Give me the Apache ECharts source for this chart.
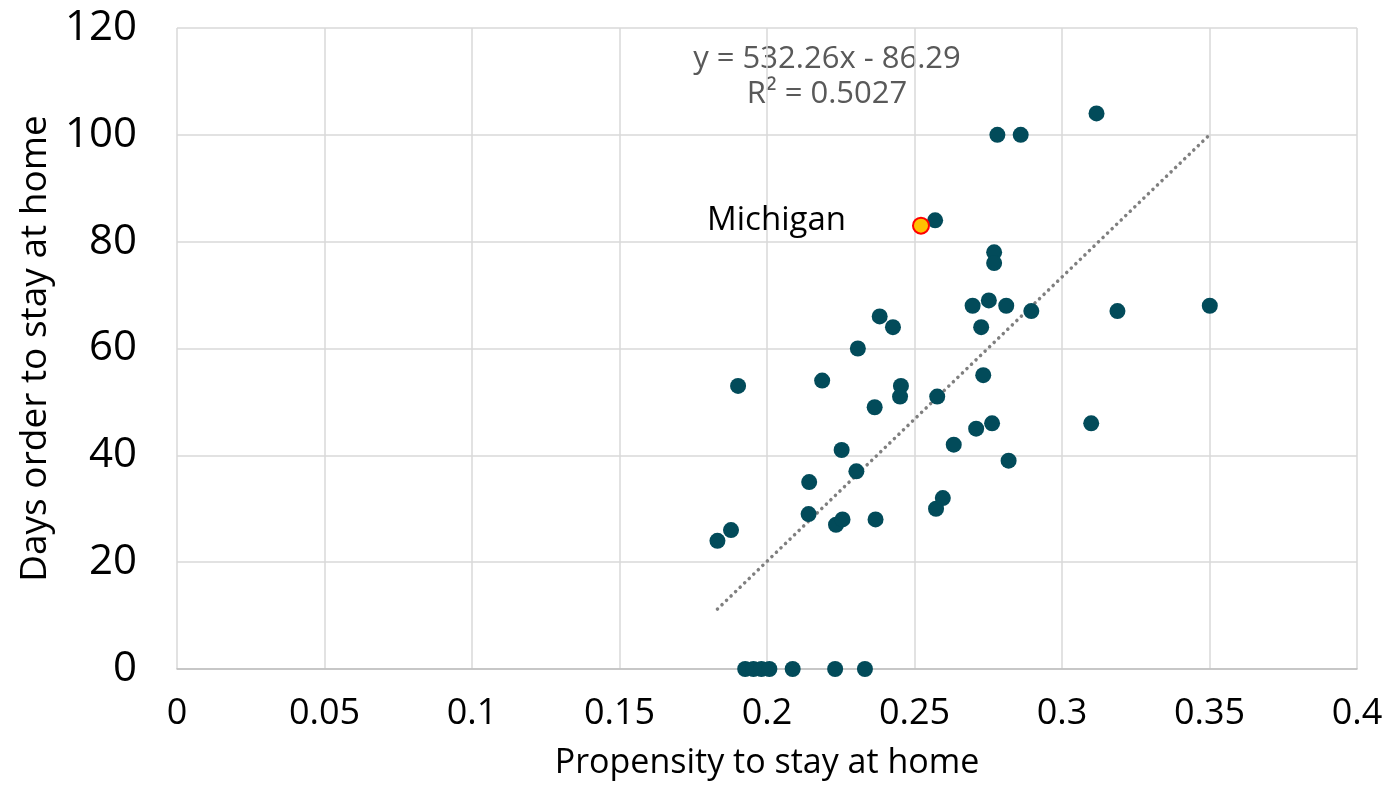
<!DOCTYPE html>
<html>
<head>
<meta charset="utf-8">
<script src="https://cdn.jsdelivr.net/npm/echarts@6/dist/echarts.min.js"></script>
<style>
html,body{margin:0;padding:0;background:#fff;}
#chart{width:1390px;height:785px;}
</style>
</head>
<body>
<div id="chart"></div>
<script>
// Propensity to stay at home (x) for each state
var propensity = [0.1832,0.1878,0.1902,0.1926,0.1954,0.1981,0.2008,0.2087,0.2231,0.2332,
  0.2143,0.2141,0.2187,0.2234,0.2256,0.2253,0.2308,0.2303,0.2365,0.2368,
  0.2382,0.2427,0.2454,0.2451,0.2570,0.2577,0.2573,0.2596,0.2633,0.2697,
  0.2709,0.2726,0.2733,0.2752,0.2763,0.2770,0.2770,0.2781,0.2811,0.2819,
  0.2860,0.2896,0.3099,0.3117,0.3188,0.3501];
// Days of stay-at-home order (y) for each state
var days = [24,26,53,0,0,0,0,0,0,0,
  35,29,54,27,28,41,60,37,49,28,
  66,64,53,51,84,51,30,32,42,68,
  45,64,55,69,46,78,76,100,68,39,
  100,67,46,104,67,68];
// Highlighted state
var highlightName = "Michigan";
var highlightX = [0.2522];
var highlightY = [83];
// Linear trendline parameters
var slope = 532.26;
var intercept = -86.29;
var rSquared = 0.5027;
// Axis ticks
var xTicks = [0,0.05,0.1,0.15,0.2,0.25,0.3,0.35,0.4];
var yTicks = [0,20,40,60,80,100,120];

var FONT = "Open Sans";
var pts = propensity.map(function(x,i){return [x, days[i]];});
var hl = highlightX.map(function(x,i){return [x, highlightY[i]];});
var allX = propensity.concat(highlightX);
var xMin = Math.min.apply(null, allX), xMax = Math.max.apply(null, allX);
var trend = [[xMin, slope*xMin+intercept],[xMax, slope*xMax+intercept]];

var chart = echarts.init(document.getElementById('chart'), null, {renderer:'canvas'});
chart.setOption({
  backgroundColor:'#ffffff',
  animation:false,
  grid:{left:177, top:28, width:1180, height:643, containLabel:false},
  xAxis:{
    type:'value', min:xTicks[0], max:xTicks[xTicks.length-1], interval:0.05,
    name:'Propensity to stay at home', nameLocation:'middle', nameGap:77,
    nameTextStyle:{fontFamily:FONT, fontSize:34, color:'#000'},
    axisLine:{show:true, lineStyle:{color:'#bfbfbf', width:1.5}},
    axisTick:{show:false},
    axisLabel:{fontFamily:FONT, fontSize:36, color:'#000', margin:27},
    splitLine:{show:true, lineStyle:{color:'#d9d9d9', width:1.5}}
  },
  yAxis:{
    type:'value', min:yTicks[0], max:yTicks[yTicks.length-1], interval:20,
    name:'Days order to stay at home', nameLocation:'middle', nameGap:122, nameRotate:90,
    nameTextStyle:{fontFamily:FONT, fontSize:37, color:'#000'},
    axisLine:{show:false},
    axisTick:{show:false},
    axisLabel:{fontFamily:FONT, fontSize:42, color:'#000', margin:40},
    splitLine:{show:true, lineStyle:{color:'#d9d9d9', width:1.5}}
  },
  series:[
    {
      type:'line', data:trend, symbol:'none', silent:true,
      lineStyle:{color:'#7f7f7f', width:3.5, type:[0.1,6.2], cap:'round'},
      z:3
    },
    {
      type:'scatter', data:pts, symbol:'circle', symbolSize:16,
      itemStyle:{color:'#024b5a', opacity:1},
      z:4
    },
    {
      type:'scatter', data:hl, symbol:'circle', symbolSize:16,
      itemStyle:{color:'#ffc000', borderColor:'#ff0000', borderWidth:2, opacity:1},
      label:{show:true, position:'left', distance:66, formatter:highlightName,
        fontFamily:FONT, fontSize:33, color:'#000', offset:[0,-5]},
      z:5
    }
  ],
  graphic:[
    {type:'text', position:[827,42], style:{
      text:'y = ' + slope.toFixed(2) + 'x - ' + Math.abs(intercept).toFixed(2) + '\nR² = ' + rSquared.toFixed(4),
      fontFamily:FONT, fontSize:31, fill:'#595959', align:'center', verticalAlign:'top', lineHeight:35}}
  ]
});
</script>
</body>
</html>
